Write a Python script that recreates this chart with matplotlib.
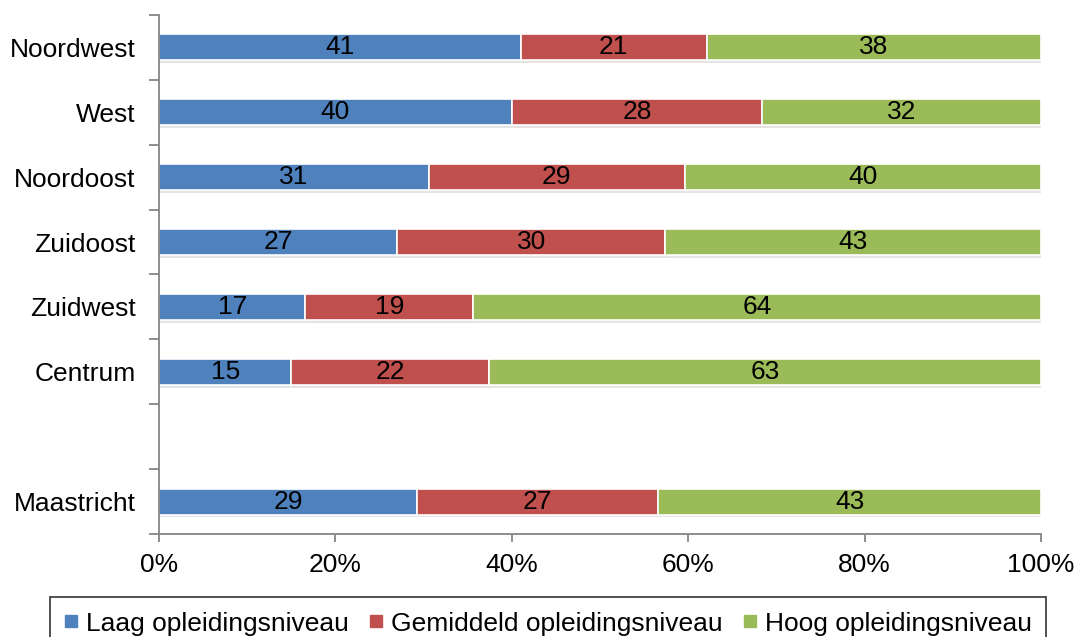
import matplotlib.pyplot as plt
import matplotlib.patheffects as pe
from matplotlib.lines import Line2D
import numpy as np

plt.rcParams['font.family'] = ['Liberation Sans', 'DejaVu Sans']

# gegevens (percentages per gebied)
gebieden = ["Noordwest", "West", "Noordoost", "Zuidoost", "Zuidwest", "Centrum"]
totaal = "Maastricht"
laag = [41.0, 40.0, 30.6, 27.0, 16.6, 15.0]
gemiddeld = [21.1, 28.4, 29.0, 30.4, 19.0, 22.4]
hoog = [37.9, 31.6, 40.4, 42.6, 64.4, 62.6]
laag_tot, gem_tot, hoog_tot = 29.3, 27.3, 43.4

reeksen = ["Laag opleidingsniveau", "Gemiddeld opleidingsniveau", "Hoog opleidingsniveau"]
kleuren = ["#4F81BD", "#C0504D", "#9BBB59"]
xticks = [0, 20, 40, 60, 80, 100]

# rijen: gebieden, lege rij, totaal
labels = gebieden + ["", totaal]
waarden = np.array([laag + [0, laag_tot],
                    gemiddeld + [0, gem_tot],
                    hoog + [0, hoog_tot]])
n = len(labels)
ypos = np.arange(n)[::-1]

fig = plt.figure(figsize=(10.79, 6.37), dpi=100)
ax = fig.add_axes([0.1474, 0.1617, 0.8174, 0.8148])

schaduw = [pe.SimplePatchShadow(offset=(1, -2), alpha=0.12), pe.Normal()]
links = np.zeros(n)
mask = np.array([l != "" for l in labels])
for reeks, kleur, vals in zip(reeksen, kleuren, waarden):
    bars = ax.barh(ypos[mask], vals[mask], left=links[mask], height=0.4,
                   color=kleur, edgecolor="white", linewidth=1.2)
    for b in bars:
        b.set_path_effects(schaduw)
    for y, l, v in zip(ypos[mask], links[mask], vals[mask]):
        ax.text(l + v / 2, y, f"{v:.0f}", ha="center", va="center",
                fontsize=19, color="black")
    links = links + vals

ax.set_xlim(0, 100)
ax.set_ylim(-0.5, n - 0.5)
ax.set_xticks(xticks)
ax.set_xticklabels([f"{t}%" for t in xticks], fontsize=19)
ax.set_yticks(ypos)
ax.set_yticklabels(labels, fontsize=19)
ax.set_yticks(np.arange(n + 1) - 0.5, minor=True)
ax.tick_params(axis="y", which="major", length=0, pad=17)
ax.tick_params(axis="y", which="minor", length=7, color="#868686", width=1.3)
ax.tick_params(axis="x", length=6, color="#868686", width=1.3, pad=8)

for s in ["top", "right"]:
    ax.spines[s].set_visible(False)
for s in ["left", "bottom"]:
    ax.spines[s].set_color("#868686")
    ax.spines[s].set_linewidth(1.3)

handles = [Line2D([], [], marker="s", linestyle="", color=k, markersize=8.5) for k in kleuren]
leg = fig.legend(handles, reeksen, loc="upper center", bbox_to_anchor=(0.508, 0.0628),
                 ncol=3, fontsize=19, frameon=True, fancybox=False, handlelength=0.5,
                 handletextpad=0.3, columnspacing=0.8, borderpad=0.55, borderaxespad=0)
leg.get_frame().set_edgecolor("black")
leg.get_frame().set_linewidth(1.2)

fig.savefig("out.png", dpi=100)
